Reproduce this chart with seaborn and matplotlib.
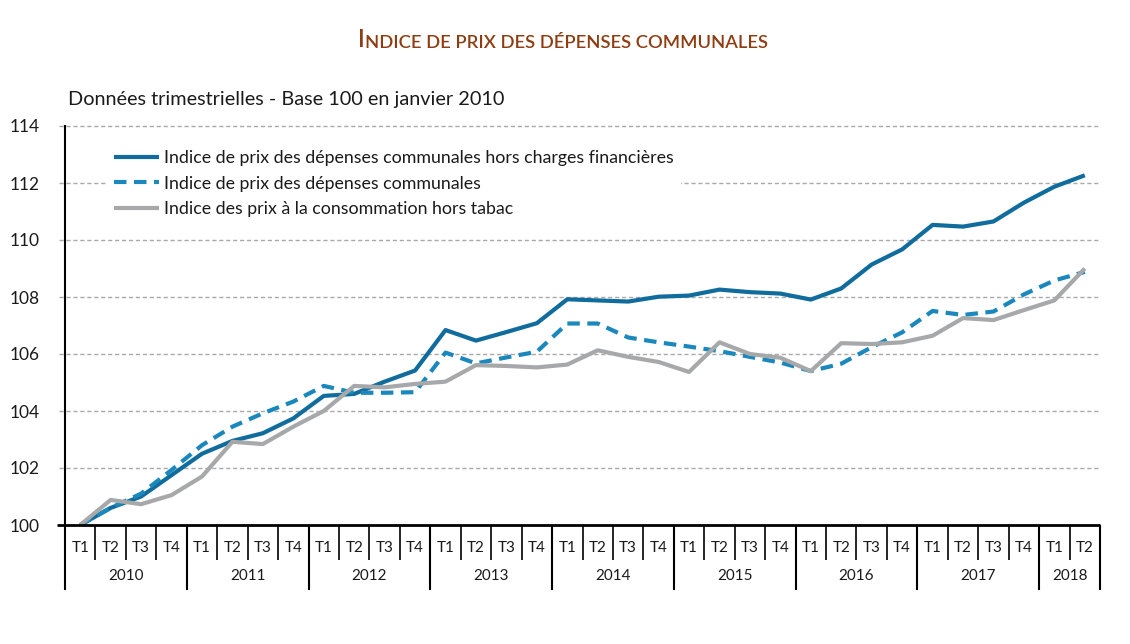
import matplotlib
matplotlib.use("Agg")
import matplotlib.pyplot as plt
import seaborn as sns
import pandas as pd
import numpy as np

# ---------------- data ----------------
years = ["2010", "2011", "2012", "2013", "2014", "2015", "2016", "2017", "2018"]
quarters = ["T1", "T2", "T3", "T4"] * 8 + ["T1", "T2"]

hors_charges = [100.0, 100.6, 101.0, 101.75,
                102.5, 102.95, 103.22, 103.74,
                104.53, 104.6, 105.03, 105.42,
                106.84, 106.47, 106.77, 107.08,
                107.92, 107.88, 107.84, 108.01,
                108.05, 108.26, 108.17, 108.12,
                107.91, 108.3, 109.14, 109.67,
                110.53, 110.47, 110.65, 111.31,
                111.87, 112.27]
depenses = [100.0, 100.6, 101.1, 101.93,
            102.8, 103.45, 103.92, 104.33,
            104.88, 104.64, 104.64, 104.66,
            106.05, 105.67, 105.88, 106.08,
            107.07, 107.07, 106.58, 106.41,
            106.26, 106.1, 105.9, 105.7,
            105.4, 105.66, 106.24, 106.76,
            107.51, 107.37, 107.49, 108.09,
            108.58, 108.88]
ipc = [100.0, 100.88, 100.73, 101.05,
       101.7, 102.92, 102.84, 103.45,
       104.0, 104.88, 104.83, 104.95,
       105.03, 105.61, 105.58, 105.53,
       105.63, 106.13, 105.9, 105.72,
       105.37, 106.41, 106.0, 105.87,
       105.4, 106.38, 106.35, 106.41,
       106.64, 107.26, 107.19, 107.54,
       107.88, 109.0]

labels = ["Indice de prix des dépenses communales hors charges financières",
          "Indice de prix des dépenses communales",
          "Indice des prix à la consommation hors tabac"]
year_quarter_counts = [4, 4, 4, 4, 4, 4, 4, 4, 2]

df = pd.DataFrame({"idx": np.arange(len(quarters)),
                   "a": hors_charges, "b": depenses, "c": ipc})

# ---------------- style ----------------
sns.set_theme(style="white")
plt.rcParams["font.family"] = ["Lato", "DejaVu Sans"]

col_solid = "#0f6c9c"
col_dash = "#1a88bd"
col_gray = "#a7a8aa"
title_col = "#8e3d12"
txt_col = "#1a1a1a"

fig = plt.figure(figsize=(11.3, 6.44), dpi=100)
ax = fig.add_axes([65 / 1130, 1 - 525 / 644, 1035 / 1130, 399 / 644])

sns.lineplot(data=df, x="idx", y="a", ax=ax, color=col_solid, lw=3.0,
             label=labels[0], solid_capstyle="butt", zorder=3)
sns.lineplot(data=df, x="idx", y="b", ax=ax, color=col_dash, lw=3.0,
             label=labels[1], zorder=4)
ax.lines[-1].set_linestyle((0, (3.0, 1.8)))
sns.lineplot(data=df, x="idx", y="c", ax=ax, color=col_gray, lw=3.0,
             label=labels[2], solid_capstyle="butt", zorder=5)

ax.set_xlim(-0.5, len(quarters) - 0.5)
ax.set_ylim(100, 114)
ax.set_xlabel("")
ax.set_ylabel("")

# y axis
yt = np.arange(100, 115, 2)
ax.set_yticks(yt)
ax.set_yticklabels([str(v) for v in yt], fontsize=12.5, color=txt_col)
ax.tick_params(axis="y", length=0, pad=18)

# gridlines extending a bit left of the spine
ytrans = ax.get_yaxis_transform()
for v in yt[1:]:
    ax.plot([-0.006, 1.0], [v, v], transform=ytrans, color="#a9a9a9",
            lw=1.0, ls=(0, (3, 2)), clip_on=False, zorder=1)
ax.plot([-0.008, 1.0], [100, 100], transform=ytrans, color="black",
        lw=2.0, clip_on=False, zorder=6, solid_capstyle="butt")

for s in ["top", "right", "bottom"]:
    ax.spines[s].set_visible(False)
ax.spines["left"].set_color("black")
ax.spines["left"].set_linewidth(1.5)

# x axis: separators as ticks, labels as text
n = len(quarters)
bounds = np.arange(n + 1) - 0.5
year_bounds = [-0.5]
acc = -0.5
for c in year_quarter_counts:
    acc += c
    year_bounds.append(acc)
quarter_bounds = [b for b in bounds if b not in year_bounds]
ax.set_xticks(year_bounds)
ax.set_xticks(quarter_bounds, minor=True)
ax.set_xticklabels([])
ax.tick_params(axis="x", which="major", direction="out", length=47,
               width=1.5, color="black", bottom=True)
ax.tick_params(axis="x", which="minor", direction="out", length=25,
               width=1.2, color="black", bottom=True)

xtrans = ax.get_xaxis_transform()
for i, q in enumerate(quarters):
    ax.text(i, -23 / 399, q, transform=xtrans, ha="center", va="center",
            fontsize=11, color=txt_col, clip_on=False)
start = 0
for y, c in zip(years, year_quarter_counts):
    ax.text(start + (c - 1) / 2, -51 / 399, y, transform=xtrans,
            ha="center", va="center", fontsize=11, color=txt_col,
            clip_on=False)
    start += c

# legend
leg = ax.legend(loc="upper left", bbox_to_anchor=(0.0405, 0.958),
                frameon=True, fontsize=12.8, handlelength=2.55,
                handletextpad=0.25, labelspacing=0.55, borderpad=0.4,
                borderaxespad=0)
leg.get_frame().set_facecolor("white")
leg.get_frame().set_edgecolor("none")
leg.get_frame().set_alpha(1.0)
leg.set_zorder(7)
for t in leg.get_texts():
    t.set_color(txt_col)

# subtitle
fig.text(68 / 1130, 1 - 99 / 644, "Données trimestrielles - Base 100 en janvier 2010",
         fontsize=14.3, color=txt_col, ha="left", va="center")

# title in small caps (first letter larger)
t1 = fig.text(0.5, 1 - 47 / 644, "I", fontsize=17, color=title_col,
              ha="left", va="baseline", fontweight="semibold")
t2 = ax.annotate("NDICE DE PRIX DES DÉPENSES COMMUNALES", xy=(1, 0),
                 xycoords=t1, fontsize=13.2, color=title_col,
                 ha="left", va="bottom", fontweight="semibold",
                 annotation_clip=False)
fig.canvas.draw()
r = fig.canvas.get_renderer()
b1 = t1.get_window_extent(r)
b2 = t2.get_window_extent(r)
total = b2.x1 - b1.x0
cx = 563
t1.set_x((cx - total / 2) / 1130)

fig.savefig("out.png", dpi=100)
